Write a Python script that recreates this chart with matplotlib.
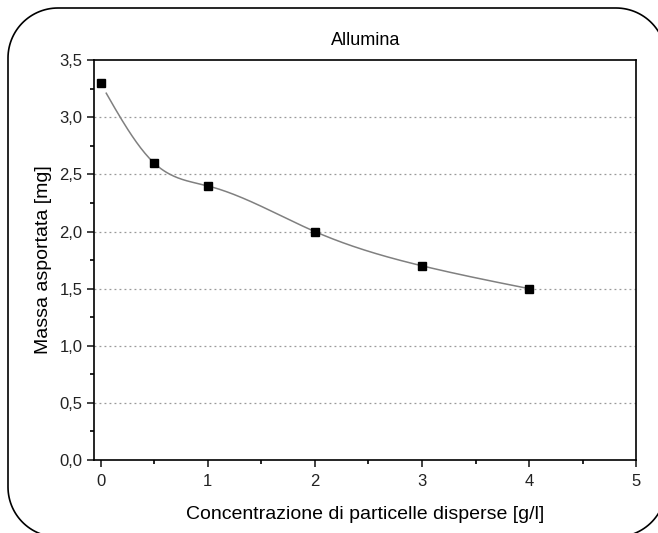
import numpy as np
import matplotlib.pyplot as plt
from matplotlib.lines import Line2D
from matplotlib.ticker import FuncFormatter, MultipleLocator
from matplotlib.transforms import Affine2D

plt.rcParams['font.family'] = ['Liberation Sans', 'DejaVu Sans']

# dati
conc = [0, 0.5, 1, 2, 3, 4]
massa = [3.3, 2.6, 2.4, 2.0, 1.7, 1.5]


# spline cubica naturale per la curva di raccordo
def natural_spline(x, y, xs):
    x = np.asarray(x, float)
    y = np.asarray(y, float)
    n = len(x)
    h = np.diff(x)
    A = np.zeros((n, n))
    b = np.zeros(n)
    A[0, 0] = 1
    A[-1, -1] = 1
    for i in range(1, n - 1):
        A[i, i - 1] = h[i - 1]
        A[i, i] = 2 * (h[i - 1] + h[i])
        A[i, i + 1] = h[i]
        b[i] = 3 * ((y[i + 1] - y[i]) / h[i] - (y[i] - y[i - 1]) / h[i - 1])
    c = np.linalg.solve(A, b)
    out = []
    for t in xs:
        i = min(max(np.searchsorted(x, t) - 1, 0), n - 2)
        d = t - x[i]
        bb = (y[i + 1] - y[i]) / h[i] - h[i] * (2 * c[i] + c[i + 1]) / 3
        dd = (c[i + 1] - c[i]) / (3 * h[i])
        out.append(y[i] + bb * d + c[i] * d ** 2 + dd * d ** 3)
    return np.array(out)


# contorno di un rettangolo arrotondato (pixel, origine in basso a sinistra)
def rounded_rect(x0, y0, x1, y1, r):
    px, py = [], []
    corners = [(x1 - r, y1 - r, 0), (x0 + r, y1 - r, 90),
               (x0 + r, y0 + r, 180), (x1 - r, y0 + r, 270)]
    for cx, cy, a0 in corners:
        t = np.radians(np.linspace(a0, a0 + 90, 30))
        px.extend(cx + r * np.cos(t))
        py.extend(cy + r * np.sin(t))
    px.append(px[0])
    py.append(py[0])
    return px, py


xs = np.linspace(conc[0], conc[-1], 300)
ys = natural_spline(conc, massa, xs)

W, H = 658, 533
fig = plt.figure(figsize=(W / 100, H / 100), dpi=100)
pix = Affine2D().scale(1 / W, 1 / H) + fig.transFigure
bx, by = rounded_rect(8, -4, 666, H - 8, 50)
fig.add_artist(Line2D(bx, by, transform=pix, color='black', linewidth=1.2, clip_on=False))

ax = fig.add_axes([0.143, 0.137, 0.824, 0.750])
ax.plot(xs[4:], ys[4:], color='#808080', linewidth=1.1, zorder=2)
ax.plot(conc, massa, 's', color='black', markersize=6, zorder=3)

ax.set_xlim(-0.06, 5)
ax.set_ylim(0, 3.5)
ax.xaxis.set_major_locator(MultipleLocator(1))
ax.xaxis.set_minor_locator(MultipleLocator(0.5))
ax.yaxis.set_major_locator(MultipleLocator(0.5))
ax.yaxis.set_minor_locator(MultipleLocator(0.25))
ax.yaxis.set_major_formatter(FuncFormatter(lambda v, p: f"{v:.1f}".replace('.', ',')))
ax.tick_params(which='major', direction='out', length=5, width=1.2, labelsize=12, colors='#222222')
ax.tick_params(axis='x', which='major', pad=5)
ax.tick_params(which='minor', direction='out', length=3, width=1.2)
for s in ax.spines.values():
    s.set_linewidth(1.2)

for v in [0.5, 1.0, 1.5, 2.0, 2.5, 3.0]:
    ax.axhline(v, color='#999999', linestyle=(0, (1.5, 2.5)), linewidth=0.9, zorder=1)

ax.set_title('Allumina', fontsize=13, pad=11)
ax.set_xlabel('Concentrazione di particelle disperse [g/l]', fontsize=14, labelpad=12)
ax.set_ylabel('Massa asportata [mg]', fontsize=14, labelpad=5)

fig.savefig('out.png', dpi=100)
